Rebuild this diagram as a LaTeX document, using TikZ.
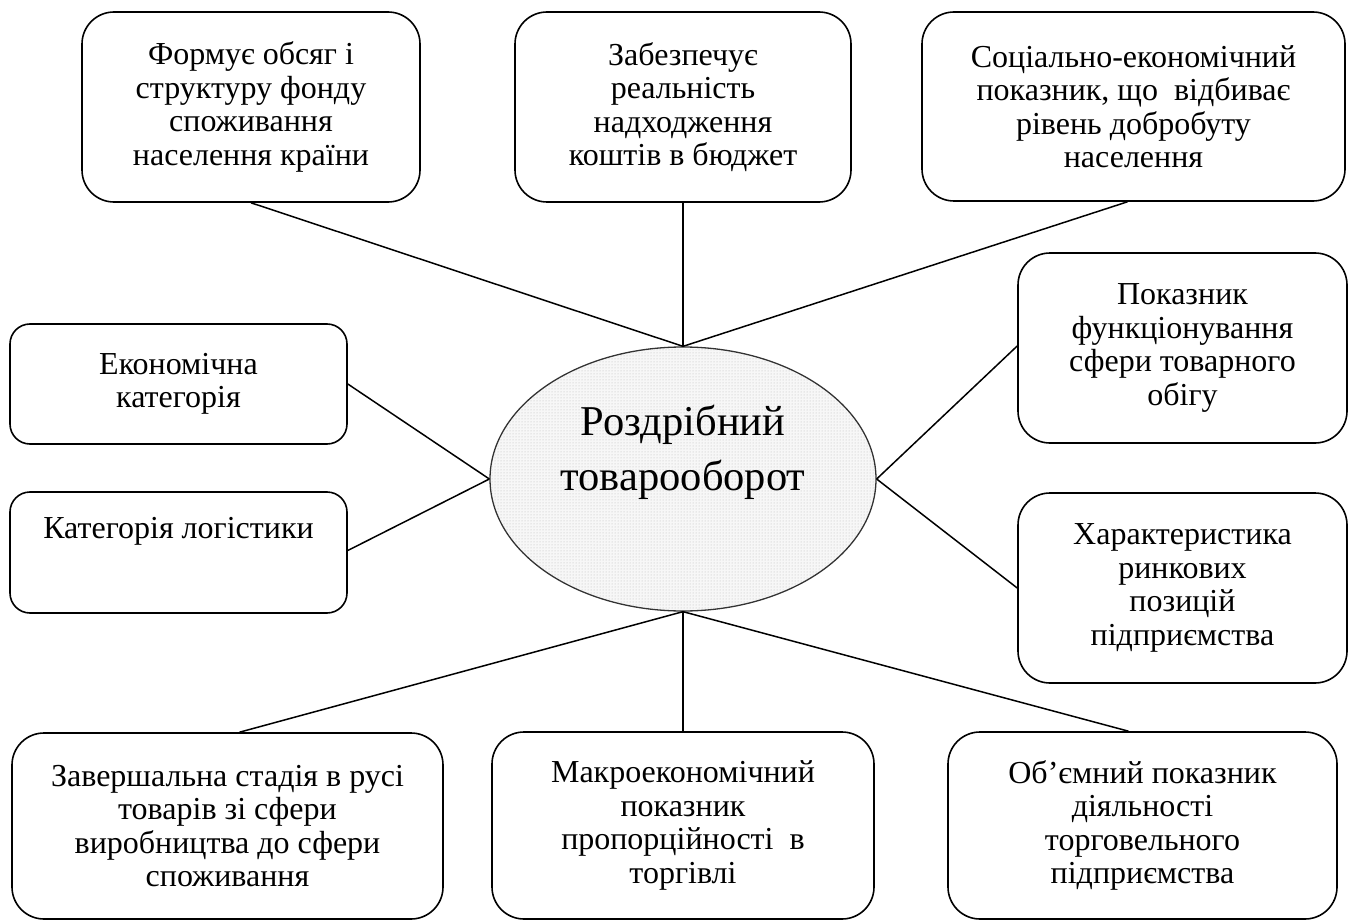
\documentclass[tikz,border=0pt]{standalone}
\usepackage{fontspec}
\setmainfont{Liberation Serif}
\usetikzlibrary{shapes.geometric,patterns}
\begin{document}
\begin{tikzpicture}[x=1pt,y=-1pt,
  bx/.style={draw=black, line width=1.6pt, rounded corners=32pt, align=center, inner sep=0pt,
     font=\fontsize{32}{33.5}\selectfont},
  sbx/.style={bx, rounded corners=20pt},
  txt/.style={align=center, inner sep=0pt, font=\fontsize{32}{33.5}\selectfont},
  conn/.style={draw=black, line width=1.5pt},
  ellbox/.style={ellipse, draw=black!80, line width=1.3pt, fill=gray!6,
     minimum width=386pt, minimum height=264pt, inner sep=0pt},
  elltxt/.style={align=center, inner sep=0pt, font=\fontsize{42.5}{55}\selectfont}
]
\useasboundingbox (0,0) rectangle (1349,920);

% central ellipse
\node[ellbox] (ell) at (683,479) {};
\fill[pattern=dots, pattern color=gray!55] (683,479) ellipse [x radius=192pt, y radius=131pt];
\node[elltxt] (elltext) at (683,452) {Роздрібний\\товарооборот};

% top boxes
\node[bx, minimum width=338pt, minimum height=190pt] (b1) at (251,107)
  {Формує обсяг і\\структуру фонду\\споживання\\населення країни};
\node[bx, minimum width=336pt, minimum height=190pt] (b2) at (683,107)
  {Забезпечує\\реальність\\надходження\\коштів в бюджет};
\node[bx, minimum width=423pt, minimum height=189pt] (b3) at (1133.5,106.5)
  {Соціально-економічний\\показник, що~ відбиває\\рівень добробуту\\населення};

% left boxes
\node[sbx, minimum width=337pt, minimum height=120pt] (b4) at (178.5,384)
  {Економічна\\категорія};
\node[sbx, minimum width=337pt, minimum height=121pt] (b5) at (178.5,552.5) {};
\node[txt] (b5t) at (178.5,531) {Категорія логістики};

% right boxes
\node[bx, minimum width=329pt, minimum height=190pt] (b6) at (1182.5,348)
  {Показник\\функціонування\\сфери товарного\\обігу};
\node[bx, minimum width=329pt, minimum height=190pt] (b7) at (1182.5,588)
  {Характеристика\\ринкових\\позицій\\підприємства};

% bottom boxes
\node[bx, minimum width=431pt, minimum height=186pt] (b8) at (227.5,826)
  {Завершальна стадія в русі\\товарів зі сфери\\виробництва до сфери\\споживання};
\node[bx, minimum width=382pt, minimum height=187pt] (b9) at (683,825.5)
  {Макроекономічний\\показник\\пропорційності~ в\\торгівлі};
\node[bx, minimum width=389pt, minimum height=187pt] (b10) at (1142.5,825.5)
  {Об’ємний показник\\діяльності\\торговельного\\підприємства};

% connectors
\draw[conn] (b1.south) -- (ell.north);
\draw[conn] (b2.south) -- (ell.north);
\draw[conn] ([xshift=-6pt]b3.south) -- (ell.north);
\draw[conn] (b4.east) -- (ell.west);
\draw[conn] ([yshift=2pt]b5.east) -- (ell.west);
\draw[conn] ([yshift=2pt]b6.west) -- (ell.east);
\draw[conn] (b7.west) -- (ell.east);
\draw[conn] ([xshift=12pt]b8.north) -- (ell.south);
\draw[conn] (b9.north) -- (ell.south);
\draw[conn] ([xshift=-14pt]b10.north) -- (ell.south);
\end{tikzpicture}
\end{document}
